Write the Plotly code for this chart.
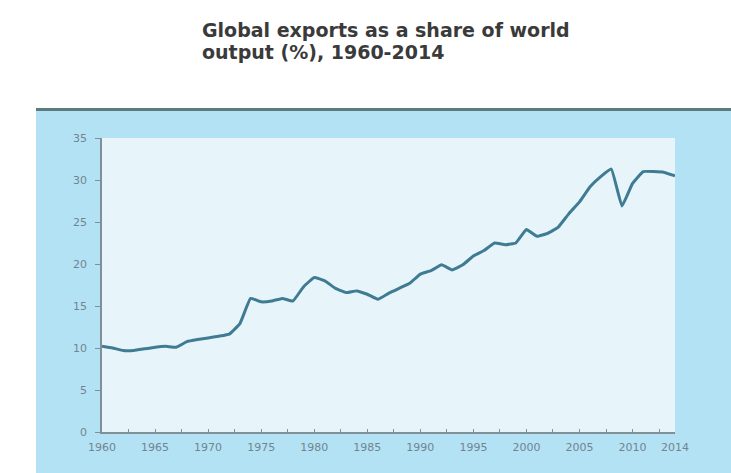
import plotly.graph_objects as go

years = list(range(1960, 2015))
export_share = [
    10.2, 10.0, 9.7, 9.7, 9.9, 10.1, 10.2, 10.1, 10.75, 11.0,
    11.2, 11.4, 11.65, 12.9, 15.9, 15.5, 15.6, 15.9, 15.6, 17.3,
    18.4, 18.0, 17.1, 16.6, 16.8, 16.4, 15.8, 16.5, 17.1, 17.7,
    18.8, 19.2, 19.9, 19.3, 19.9, 20.95, 21.6, 22.5, 22.3, 22.5,
    24.1, 23.3, 23.65, 24.4, 26.0, 27.4, 29.2, 30.4, 31.3, 26.9,
    29.6, 31.0, 31.0, 30.9, 30.5,
]
x_tick_vals = [1960, 1965, 1970, 1975, 1980, 1985, 1990, 1995, 2000, 2005, 2010, 2014]
x_tick_text = [str(v) for v in x_tick_vals]
y_tick_vals = [0, 5, 10, 15, 20, 25, 30, 35]
title_lines = ["Global exports as a share of world", "output (%), 1960-2014"]

W, H = 731, 473
L, R, T, B = 102, 56, 138, 41
plot_h = H - T - B
plot_w = W - L - R

def px_x(px):
    return (px - L) / plot_w

def px_y(py):
    return (H - B - py) / plot_h

fig = go.Figure()
fig.add_trace(go.Scatter(
    x=years, y=export_share, mode="lines",
    line=dict(color="#3f7b93", width=3, shape="spline", smoothing=0.3),
    hoverinfo="x+y", showlegend=False, cliponaxis=False,
))

axis_color = "#7f9098"
tick_font = dict(family="DejaVu Sans", size=11, color="#71858f")
title_font = dict(family="DejaVu Sans", size=19, color="#3a3a3a", weight="bold")

fig.update_layout(
    width=W, height=H,
    margin=dict(l=L, r=R, t=T, b=B, pad=0),
    paper_bgcolor="white",
    plot_bgcolor="#e7f5fb",
    showlegend=False,
    xaxis=dict(
        range=[1960, 2014], tickvals=x_tick_vals, ticktext=x_tick_text,
        showgrid=False, zeroline=False, showline=True, linecolor=axis_color, linewidth=1.5,
        ticks="inside", ticklen=3, tickcolor=axis_color,
        minor=dict(dtick=2.5, tick0=1960, ticks="inside", ticklen=3, tickcolor=axis_color, showgrid=False),
        tickfont=tick_font, ticklabelstandoff=4,
    ),
    yaxis=dict(
        range=[0, 35], tickvals=y_tick_vals,
        showgrid=False, zeroline=False, showline=True, linecolor=axis_color, linewidth=1.5,
        ticks="outside", ticklen=5, tickcolor=axis_color,
        tickfont=tick_font, ticklabelstandoff=6,
    ),
    shapes=[
        dict(type="rect", xref="paper", yref="paper",
             x0=px_x(36), x1=px_x(W + 2), y0=px_y(H + 2), y1=px_y(110),
             fillcolor="#b3e2f5", line=dict(width=0), layer="below"),
        dict(type="rect", xref="paper", yref="paper",
             x0=0, x1=1, y0=0, y1=1,
             fillcolor="#e7f5fb", line=dict(width=0), layer="below"),
        dict(type="line", xref="paper", yref="paper",
             x0=px_x(36), x1=px_x(W + 2), y0=px_y(109.5), y1=px_y(109.5),
             line=dict(color="#5b7b7f", width=3), layer="below"),
    ],
    annotations=[
        dict(text=title_lines[0], xref="paper", yref="paper", x=px_x(200), y=px_y(30),
             xanchor="left", yanchor="middle", showarrow=False, font=title_font),
        dict(text=title_lines[1], xref="paper", yref="paper", x=px_x(200), y=px_y(52),
             xanchor="left", yanchor="middle", showarrow=False, font=title_font),
    ],
)

fig.write_html("out.html")
